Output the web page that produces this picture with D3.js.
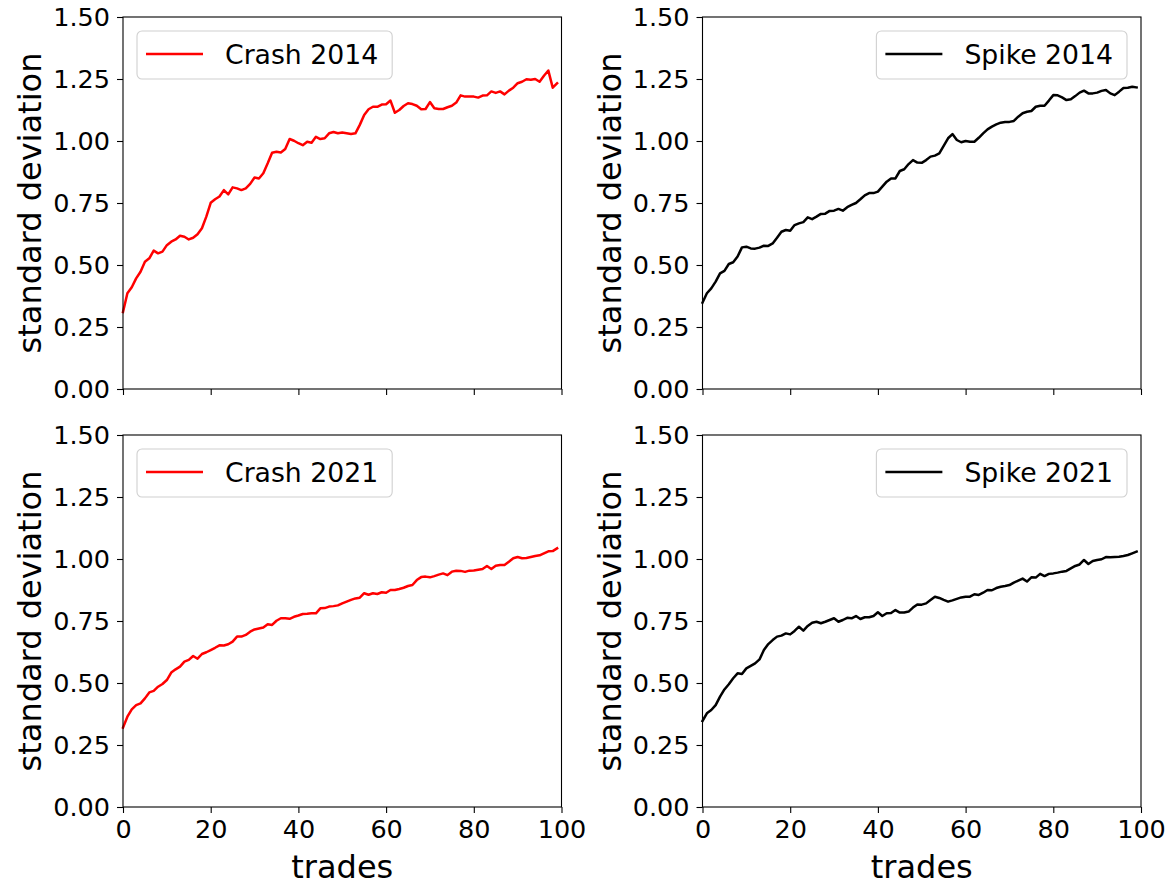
<!DOCTYPE html>
<html>
<head>
<meta charset="utf-8">
<script src="https://cdn.jsdelivr.net/npm/d3@7"></script>
<style>
    body { margin: 0; background: #ffffff; }
    svg text { font-family: "DejaVu Sans", sans-serif; fill: #000000; }
</style>
</head>
<body>
<div id="chart"></div>
<script>
let chart_width = 1175;
let chart_height = 888;

let y_ticks = [0, 0.25, 0.5, 0.75, 1.0, 1.25, 1.5];
let x_ticks = [0, 20, 40, 60, 80, 100];

let crash2014 = [0.31, 0.386, 0.41, 0.446, 0.473, 0.513, 0.527, 0.558, 0.547, 0.554,
    0.58, 0.594, 0.603, 0.618, 0.614, 0.603, 0.61, 0.624, 0.648, 0.695,
    0.751, 0.765, 0.776, 0.802, 0.785, 0.813, 0.809, 0.802, 0.809, 0.827,
    0.853, 0.849, 0.87, 0.91, 0.953, 0.957, 0.954, 0.968, 1.008, 1.001,
    0.991, 0.983, 0.997, 0.993, 1.017, 1.008, 1.011, 1.031, 1.036, 1.031,
    1.034, 1.031, 1.028, 1.031, 1.065, 1.105, 1.128, 1.138, 1.138, 1.147,
    1.148, 1.163, 1.114, 1.125, 1.141, 1.152, 1.149, 1.142, 1.128, 1.129,
    1.157, 1.132, 1.129, 1.129, 1.136, 1.142, 1.155, 1.184, 1.179, 1.179,
    1.179, 1.175, 1.183, 1.184, 1.2, 1.194, 1.2, 1.188, 1.203, 1.215,
    1.233, 1.239, 1.249, 1.247, 1.25, 1.239, 1.263, 1.284, 1.215, 1.233];

let spike2014 = [0.348, 0.386, 0.406, 0.433, 0.466, 0.476, 0.504, 0.511, 0.534, 0.571,
    0.574, 0.567, 0.566, 0.57, 0.578, 0.577, 0.587, 0.61, 0.634, 0.641,
    0.638, 0.661, 0.668, 0.673, 0.692, 0.685, 0.695, 0.706, 0.707, 0.718,
    0.719, 0.726, 0.719, 0.733, 0.742, 0.75, 0.765, 0.781, 0.79, 0.79,
    0.796, 0.816, 0.836, 0.849, 0.849, 0.879, 0.886, 0.907, 0.923, 0.913,
    0.912, 0.923, 0.937, 0.941, 0.95, 0.98, 1.011, 1.028, 1.004, 0.995,
    1.0, 0.997, 0.997, 1.013, 1.031, 1.047, 1.058, 1.067, 1.074, 1.077,
    1.077, 1.081, 1.098, 1.112, 1.118, 1.121, 1.138, 1.142, 1.142, 1.163,
    1.185, 1.184, 1.176, 1.165, 1.168, 1.181, 1.195, 1.203, 1.192, 1.192,
    1.195, 1.202, 1.206, 1.192, 1.185, 1.199, 1.214, 1.215, 1.219, 1.216];

let crash2021 = [0.32, 0.364, 0.394, 0.411, 0.418, 0.438, 0.462, 0.468, 0.485, 0.496,
    0.512, 0.542, 0.555, 0.566, 0.586, 0.593, 0.609, 0.598, 0.617, 0.624,
    0.633, 0.642, 0.652, 0.651, 0.656, 0.667, 0.687, 0.687, 0.694, 0.707,
    0.716, 0.72, 0.724, 0.737, 0.734, 0.751, 0.761, 0.761, 0.759, 0.767,
    0.772, 0.778, 0.779, 0.781, 0.781, 0.801, 0.802, 0.808, 0.81, 0.813,
    0.821, 0.828, 0.835, 0.841, 0.844, 0.862, 0.856, 0.862, 0.859, 0.866,
    0.864, 0.875, 0.875, 0.879, 0.884, 0.891, 0.895, 0.915, 0.927, 0.929,
    0.926, 0.931, 0.937, 0.942, 0.935, 0.949, 0.953, 0.952, 0.948, 0.953,
    0.954, 0.957, 0.96, 0.972, 0.96, 0.973, 0.976, 0.976, 0.989, 1.003,
    1.008, 1.003, 1.004, 1.008, 1.012, 1.015, 1.023, 1.031, 1.032, 1.043];

let spike2021 = [0.347, 0.378, 0.391, 0.411, 0.445, 0.474, 0.495, 0.519, 0.539, 0.536,
    0.559, 0.569, 0.579, 0.595, 0.633, 0.657, 0.673, 0.687, 0.691, 0.7,
    0.696, 0.71, 0.727, 0.711, 0.73, 0.743, 0.747, 0.741, 0.747, 0.754,
    0.761, 0.747, 0.754, 0.763, 0.761, 0.77, 0.758, 0.765, 0.765, 0.77,
    0.785, 0.77, 0.781, 0.782, 0.794, 0.784, 0.784, 0.788, 0.804, 0.817,
    0.816, 0.821, 0.835, 0.848, 0.843, 0.835, 0.828, 0.833, 0.839, 0.845,
    0.848, 0.848, 0.858, 0.855, 0.864, 0.875, 0.874, 0.883, 0.888, 0.891,
    0.895, 0.905, 0.913, 0.921, 0.909, 0.926, 0.925, 0.94, 0.931, 0.94,
    0.942, 0.945, 0.949, 0.952, 0.962, 0.972, 0.978, 0.996, 0.98, 0.992,
    0.996, 0.999, 1.008, 1.007, 1.008, 1.009, 1.012, 1.016, 1.023, 1.03];

let svg = d3.select('#chart')
    .append('svg')
    .attr('width', chart_width)
    .attr('height', chart_height);

// panel size, shared by all four
let panel_w = 438.5;
let panel_h = 372;

drawPanel(svg, 123, 17, crash2014, 'Crash 2014', '#ff0000', 'left', false);
drawPanel(svg, 702.5, 17, spike2014, 'Spike 2014', '#000000', 'right', false);
drawPanel(svg, 123, 435, crash2021, 'Crash 2021', '#ff0000', 'left', true);
drawPanel(svg, 702.5, 435, spike2021, 'Spike 2021', '#000000', 'right', true);

function drawPanel(target, left, top, values, label, color, legendSide, showX){
    let xScale = d3.scaleLinear().domain([0, 100]).range([0, panel_w]);
    let yScale = d3.scaleLinear().domain([0, 1.5]).range([panel_h, 0]);

    let g = target.append('g')
        .attr('transform', 'translate(' + left + ',' + top + ')');

    // y axis
    let yAxis = d3.axisLeft(yScale)
        .tickValues(y_ticks)
        .tickFormat(d3.format('.2f'))
        .tickSize(6)
        .tickPadding(7);
    let ya = g.append('g').call(yAxis);
    ya.select('.domain').remove();
    ya.selectAll('line').attr('stroke', '#000').attr('stroke-width', 1.1);
    ya.selectAll('text').style('font-size', '25.5px');

    // x axis (labels only on the bottom row)
    let xAxis = d3.axisBottom(xScale)
        .tickValues(x_ticks)
        .tickFormat(showX ? d3.format('d') : '')
        .tickSize(6)
        .tickPadding(7);
    let xa = g.append('g')
        .attr('transform', 'translate(0,' + panel_h + ')')
        .call(xAxis);
    xa.select('.domain').remove();
    xa.selectAll('line').attr('stroke', '#000').attr('stroke-width', 1.1);
    xa.selectAll('text').style('font-size', '25.5px');

    let line = d3.line()
        .x((d, i) => xScale(i))
        .y(d => yScale(d));

    g.append('path')
        .datum(values)
        .attr('d', line)
        .attr('fill', 'none')
        .attr('stroke', color)
        .attr('stroke-width', 2.5)
        .attr('stroke-linejoin', 'round')
        .attr('stroke-linecap', 'square');

    // frame
    g.append('rect')
        .attr('x', 0)
        .attr('y', 0)
        .attr('width', panel_w)
        .attr('height', panel_h)
        .attr('fill', 'none')
        .attr('stroke', '#000')
        .attr('stroke-width', 1.1);

    g.append('text')
        .text('standard deviation')
        .attr('transform', 'translate(' + (-82) + ',' + (panel_h / 2) + ') rotate(-90)')
        .attr('text-anchor', 'middle')
        .style('font-size', '32px');

    if(showX){
        g.append('text')
            .text('trades')
            .attr('x', panel_w / 2)
            .attr('y', panel_h + 71)
            .attr('text-anchor', 'middle')
            .style('font-size', '32px');
    }

    // legend
    let leg = g.append('g');
    let box = leg.append('rect')
        .attr('rx', 5)
        .attr('ry', 5)
        .attr('fill', '#ffffff')
        .attr('fill-opacity', 0.8)
        .attr('stroke', '#d0d0d0')
        .attr('stroke-width', 1.1);
    leg.append('line')
        .attr('x1', 9)
        .attr('x2', 66)
        .attr('y1', 23)
        .attr('y2', 23)
        .attr('stroke', color)
        .attr('stroke-width', 2.5);
    let txt = leg.append('text')
        .text(label)
        .attr('x', 88)
        .attr('y', 23)
        .attr('dy', '0.36em')
        .style('font-size', '26.7px');
    let boxW = 88 + txt.node().getComputedTextLength() + 14;
    box.attr('width', boxW).attr('height', 48);
    let lx = legendSide === 'left' ? 14 : panel_w - 14 - boxW;
    leg.attr('transform', 'translate(' + lx + ',14)');
}
</script>
</body>
</html>
